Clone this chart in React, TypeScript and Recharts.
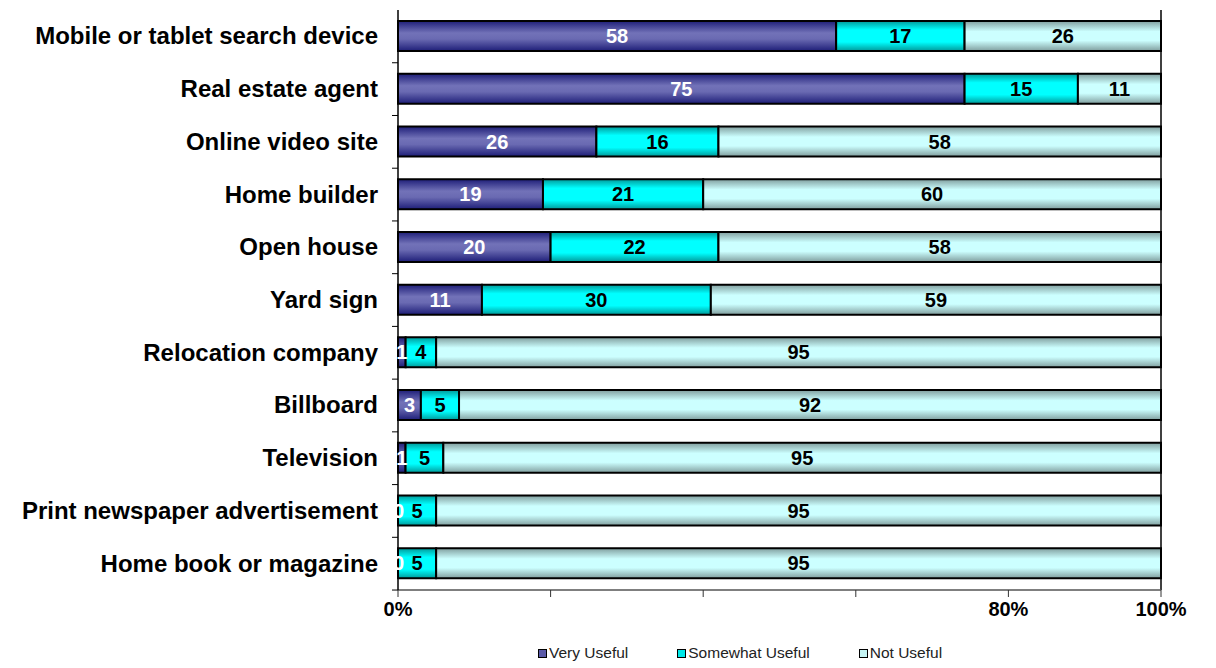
import { Bar, BarChart, LabelList, Legend, ReferenceLine, XAxis, YAxis } from "recharts";

const categories = [
  "Mobile or tablet search device",
  "Real estate agent",
  "Online video site",
  "Home builder",
  "Open house",
  "Yard sign",
  "Relocation company",
  "Billboard",
  "Television",
  "Print newspaper advertisement",
  "Home book or magazine",
];
const veryUseful = [58, 75, 26, 19, 20, 11, 1, 3, 1, 0, 0];
const somewhatUseful = [17, 15, 16, 21, 22, 30, 4, 5, 5, 5, 5];
const notUseful = [26, 11, 58, 60, 58, 59, 95, 92, 95, 95, 95];

const xTicks = [0, 0.2, 0.4, 0.6, 0.8, 1];
const xTickLabels = ["0%", "", "", "", "80%", "100%"];

const seriesNames = ["Very Useful", "Somewhat Useful", "Not Useful"];

// rows don't always add up to 100, so each bar is drawn as a share of its row total
const data = categories.map((name, i) => {
  const total = veryUseful[i] + somewhatUseful[i] + notUseful[i];
  return {
    name,
    vu: veryUseful[i],
    su: somewhatUseful[i],
    nu: notUseful[i],
    vuShare: veryUseful[i] / total,
    suShare: somewhatUseful[i] / total,
    nuShare: notUseful[i] / total,
  };
});

const font = "'Liberation Sans', Arial, sans-serif";
const HALF_BAND = 26.4;

function CategoryTick({ x, y, payload }: any) {
  return (
    <g>
      <text
        x={x}
        y={y}
        dy={8}
        textAnchor="end"
        fontFamily={font}
        fontWeight="bold"
        fontSize={24}
        fill="#000"
      >
        {payload.value}
      </text>
      <line x1={x + 14} x2={x + 20} y1={y + HALF_BAND} y2={y + HALF_BAND} stroke="#000" />
    </g>
  );
}

const legendSolid = ["#5a5aa8", "#00e8e8", "#c4f4f4"];

function ChartLegend() {
  return (
    <div
      style={{
        height: 30,
        display: "flex",
        alignItems: "center",
        paddingLeft: 530,
        fontFamily: font,
        fontSize: 15.5,
        color: "#222",
        transform: "translateY(4px)",
      }}
    >
      {seriesNames.map((n, i) => (
        <div key={n} style={{ display: "flex", alignItems: "center", marginRight: 49 }}>
          <span
            style={{
              display: "inline-block",
              width: 7,
              height: 7,
              border: "1px solid #000",
              background: legendSolid[i],
              marginRight: 2,
            }}
          />
          {n}
        </div>
      ))}
    </div>
  );
}

const labelStyle = { fontFamily: font, fontWeight: "bold", fontSize: 20 };

export default function App() {
  return (
    <div style={{ width: 1200, height: 656, background: "#fff" }}>
      <BarChart
        width={1200}
        height={656}
        data={data}
        layout="vertical"
        barGap={-30}
        margin={{ top: 2, right: 47, bottom: 0, left: 0 }}
      >
        <defs>
          <linearGradient id="gradVery" x1="0" y1="0" x2="0" y2="1">
            <stop offset="0%" stopColor="#1e1e78" />
            <stop offset="40%" stopColor="#7272b8" />
            <stop offset="60%" stopColor="#6a6ab2" />
            <stop offset="100%" stopColor="#1e1e78" />
          </linearGradient>
          <linearGradient id="gradSome" x1="0" y1="0" x2="0" y2="1">
            <stop offset="0%" stopColor="#009a9a" />
            <stop offset="30%" stopColor="#00ffff" />
            <stop offset="70%" stopColor="#00ffff" />
            <stop offset="100%" stopColor="#009a9a" />
          </linearGradient>
          <linearGradient id="gradNot" x1="0" y1="0" x2="0" y2="1">
            <stop offset="0%" stopColor="#809e9e" />
            <stop offset="35%" stopColor="#ccffff" />
            <stop offset="65%" stopColor="#ccffff" />
            <stop offset="100%" stopColor="#809e9e" />
          </linearGradient>
        </defs>
        <XAxis
          type="number"
          domain={[0, 1]}
          ticks={xTicks}
          tickFormatter={(v: number) => xTickLabels[xTicks.indexOf(v)] ?? ""}
          axisLine={{ stroke: "#555", strokeWidth: 1.5 }}
          tickLine={{ stroke: "#333" }}
          tickSize={7}
          tickMargin={5}
          height={44}
          tick={{ fontFamily: font, fontWeight: "bold", fontSize: 20, fill: "#000" }}
        />
        <XAxis
          xAxisId="top"
          orientation="top"
          type="number"
          domain={[0, 1]}
          height={0}
          tick={false}
          tickLine={false}
          axisLine={{ stroke: "#bbb", strokeWidth: 1.5 }}
        />
        <YAxis
          type="category"
          dataKey="name"
          width={390}
          interval={0}
          tickLine={false}
          tickSize={0}
          tickMargin={20}
          axisLine={{ stroke: "#000", strokeWidth: 1.5 }}
          tick={<CategoryTick />}
        />
        <ReferenceLine x={1} stroke="#000" strokeWidth={1.5} />
        <Legend verticalAlign="bottom" content={<ChartLegend />} />
        <Bar dataKey="vuShare" name={seriesNames[0]} stackId="a" barSize={30} fill="url(#gradVery)" stroke="#000" strokeWidth={2} isAnimationActive={false} />
        <Bar dataKey="suShare" name={seriesNames[1]} stackId="a" barSize={30} fill="url(#gradSome)" stroke="#000" strokeWidth={2} isAnimationActive={false}>
          <LabelList dataKey="su" position="center" fill="#000" {...labelStyle} />
        </Bar>
        <Bar dataKey="nuShare" name={seriesNames[2]} stackId="a" barSize={30} fill="url(#gradNot)" stroke="#000" strokeWidth={2} isAnimationActive={false}>
          <LabelList dataKey="nu" position="center" fill="#000" {...labelStyle} />
        </Bar>
        {/* transparent copy of the first series so its labels sit on top of the stack */}
        <Bar dataKey="vuShare" stackId="labels" barSize={30} minPointSize={1} fill="none" stroke="none" legendType="none" isAnimationActive={false}>
          <LabelList dataKey="vu" position="center" fill="#fff" {...labelStyle} />
        </Bar>
      </BarChart>
    </div>
  );
}
